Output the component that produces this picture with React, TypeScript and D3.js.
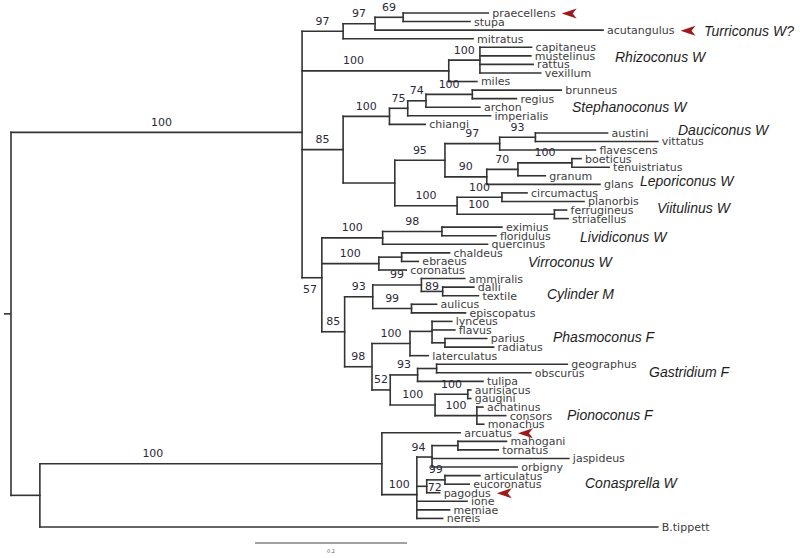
import React, { useMemo, useEffect } from 'react';
import * as d3 from 'd3';

type Row = [string, string | null, number, number | null];

// [node id, parent id, branch length (subst./site), posterior support]
const OUTER: Row[] = [
  ['root', null, 0, null],
  ['N1', 'root', 0.383, 100],
];
const TURRICONUS_RHIZOCONUS: Row[] = [
  ['N2', 'N1', 0.054, 97],
  ['N3', 'N2', 0.042, 97],
  ['N4', 'N3', 0.037, 69],
  ['praecellens', 'N4', 0.112, null],
  ['stupa', 'N4', 0.088, null],
  ['acutangulus', 'N3', 0.3, null],
  ['mitratus', 'N2', 0.171, null],
  ['Rhizo', 'N1', 0.193, 100],
  ['NRc', 'Rhizo', 0.041, 100],
  ['capitaneus', 'NRc', 0.068, null],
  ['mustelinus', 'NRc', 0.067, null],
  ['rattus', 'NRc', 0.07, null],
  ['vexillum', 'NRc', 0.08, null],
  ['miles', 'Rhizo', 0.037, null],
];
const STEPH_DAUC_LEPO_VIIT: Row[] = [
  ['N85', 'N1', 0.054, 85],
  ['Steph', 'N85', 0.061, 100],
  ['N75', 'Steph', 0.024, 75],
  ['N74', 'N75', 0.024, 74],
  ['N100s', 'N74', 0.061, 100],
  ['brunneus', 'N100s', 0.117, null],
  ['regius', 'N100s', 0.058, null],
  ['archon', 'N74', 0.071, null],
  ['imperialis', 'N75', 0.109, null],
  ['chiangi', 'Steph', 0.047, null],
  ['NDLV', 'N85', 0.068, null],
  ['N95', 'NDLV', 0.066, 95],
  ['N97d', 'N95', 0.072, 97],
  ['N93d', 'N97d', 0.047, 93],
  ['austini', 'N93d', 0.095, null],
  ['vittatus', 'N93d', 0.161, null],
  ['flavescens', 'N97d', 0.126, null],
  ['N90', 'N95', 0.055, 90],
  ['N70', 'N90', 0.041, 70],
  ['N100b', 'N70', 0.071, 100],
  ['boeticus', 'N100b', 0.012, null],
  ['tenuistriatus', 'N100b', 0.049, null],
  ['granum', 'N70', 0.036, null],
  ['glans', 'N90', 0.149, null],
  ['Viit', 'NDLV', 0.082, 100],
  ['N100v1', 'Viit', 0.059, 100],
  ['circumactus', 'N100v1', 0.033, null],
  ['planorbis', 'N100v1', 0.108, null],
  ['N100v2', 'Viit', 0.128, 100],
  ['ferrugineus', 'N100v2', 0.016, null],
  ['striatellus', 'N100v2', 0.018, null],
];
const LIV_VIR_CYL: Row[] = [
  ['N57', 'N1', 0.026, 57],
  ['Liv', 'N57', 0.08, 100],
  ['N98l', 'Liv', 0.078, 98],
  ['eximius', 'N98l', 0.079, null],
  ['floridulus', 'N98l', 0.071, null],
  ['quercinus', 'Liv', 0.138, null],
  ['Vir', 'N57', 0.075, 100],
  ['NVc', 'Vir', 0.03, null],
  ['chaldeus', 'NVc', 0.063, null],
  ['ebraeus', 'NVc', 0.022, null],
  ['coronatus', 'Vir', 0.036, null],
  ['N85b', 'N57', 0.03, 85],
  ['N93c', 'N85b', 0.037, 93],
  ['N99a', 'N93c', 0.064, 99],
  ['ammiralis', 'N99a', 0.057, null],
  ['N89', 'N99a', 0.028, 89],
  ['dalli', 'N89', 0.041, null],
  ['textile', 'N89', 0.047, null],
  ['N99b', 'N93c', 0.051, 99],
  ['aulicus', 'N99b', 0.033, null],
  ['episcopatus', 'N99b', 0.071, null],
];
const PHAS_GAST_PION: Row[] = [
  ['N98', 'N85b', 0.036, 98],
  ['Phas', 'N98', 0.05, 100],
  ['NPh', 'Phas', 0.029, null],
  ['lynceus', 'NPh', 0.026, null],
  ['flavus', 'NPh', 0.03, null],
  ['Npr', 'NPh', 0.017, null],
  ['parius', 'Npr', 0.055, null],
  ['radiatus', 'Npr', 0.064, null],
  ['laterculatus', 'Phas', 0.024, null],
  ['N52', 'N98', 0.024, 52],
  ['Gas', 'N52', 0.036, 93],
  ['Ngo', 'Gas', 0.025, null],
  ['geographus', 'Ngo', 0.172, null],
  ['obscurus', 'Ngo', 0.124, null],
  ['tulipa', 'Gas', 0.086, null],
  ['Pion', 'N52', 0.059, 100],
  ['Nau', 'Pion', 0.043, 100],
  ['aurisiacus', 'Nau', 0.004, null],
  ['gaugini', 'Nau', 0.004, null],
  ['Nac', 'Pion', 0.055, 100],
  ['achatinus', 'Nac', 0.008, null],
  ['consors', 'Nac', 0.038, null],
  ['monachus', 'Nac', 0.009, null],
];
const CONASPRELLA_OUTGROUP: Row[] = [
  ['NB', 'root', 0.038, null],
  ['NC', 'NB', 0.45, 100],
  ['arcuatus', 'NC', 0.103, null],
  ['N100c', 'NC', 0.046, 100],
  ['N94', 'N100c', 0.02, 94],
  ['Nmt', 'N94', 0.034, null],
  ['mahogani', 'Nmt', 0.064, null],
  ['tornatus', 'Nmt', 0.053, null],
  ['jaspideus', 'N94', 0.18, null],
  ['orbigny', 'N94', 0.112, null],
  ['N72', 'N100c', 0.013, 72],
  ['N99c', 'N72', 0.024, 99],
  ['articulatus', 'N99c', 0.046, null],
  ['eucoronatus', 'N99c', 0.032, null],
  ['pagodus', 'N72', 0.017, null],
  ['ione', 'N100c', 0.066, null],
  ['memiae', 'N100c', 0.043, null],
  ['nereis', 'N100c', 0.034, null],
  ['B.tippett', 'NB', 0.813, null],
];

const EDGES: Row[] = [
  ...OUTER,
  ...TURRICONUS_RHIZOCONUS,
  ...STEPH_DAUC_LEPO_VIIT,
  ...LIV_VIR_CYL,
  ...PHAS_GAST_PION,
  ...CONASPRELLA_OUTGROUP,
];

// Tips flagged with red arrowheads
const ARROW_TIPS = ['praecellens', 'acutangulus', 'arcuatus', 'pagodus'];

// Clade (subgenus) names
const CLADE_NAMES = [
  'Turriconus W?',
  'Rhizoconus W',
  'Stephanoconus W',
  'Dauciconus W',
  'Leporiconus W',
  'Viitulinus W',
  'Lividiconus W',
  'Virroconus W',
  'Cylinder M',
  'Phasmoconus F',
  'Gastridium F',
  'Pionoconus F',
  'Conasprella W',
];

const SCALE_BAR_VALUE = 0.2;
const SCALE_BAR_LABEL = '0.2';

// ---- layout (pixels) ----
const W = 800;
const H = 558;
const CLADE_POS: [number, number][] = [
  [704, 31], [615, 57], [572, 107], [678, 130], [640, 181], [657, 208],
  [580, 237], [528, 262], [547, 294], [553, 337], [649, 372], [567, 415], [585, 483],
];
// nudges for a few support labels [dx, dy]
const LABEL_NUDGE: Record<string, [number, number]> = {
  N1: [5, 0],
  NC: [-58, 0],
  Rhizo: [-22, 0],
  N100v2: [-27, 0],
  N72: [13, 11],
  N89: [0, 5],
  N57: [-2, 21.5],
  N94: [-6, 0],
};

const TIP_FONT = "11px 'DejaVu Sans'";

type TNode = d3.HierarchyNode<Row> & { dist?: number; yy?: number };

export default function App() {
  useEffect(() => {
    document.body.style.margin = '0';
  }, []);

  const layout = useMemo(() => {
    const root = d3
      .stratify<Row>()
      .id((d) => d[0])
      .parentId((d) => d[1])(EDGES) as TNode;

    root.eachBefore((n: TNode) => {
      n.dist = n.parent ? (n.parent as TNode).dist! + n.data[2] : 0;
    });
    const leaves = root.leaves() as TNode[];
    const yScale = d3.scaleLinear().domain([0, leaves.length - 1]).range([13, 527]);
    leaves.forEach((l, i) => (l.yy = yScale(i)));
    root.eachAfter((n: TNode) => {
      if (n.children) n.yy = d3.mean(n.children as TNode[], (c) => c.yy!)!;
    });
    const xScale = d3.scaleLinear().domain([0, 1]).range([11, 771]);
    return { root, leaves, xScale, nodes: root.descendants() as TNode[] };
  }, []);

  const measure = useMemo(() => {
    const c = document.createElement('canvas').getContext('2d')!;
    c.font = TIP_FONT;
    return (s: string) => c.measureText(s).width;
  }, []);

  const { root, leaves, xScale, nodes } = layout;
  const X = (n: TNode) => xScale(n.dist!);

  const lineColor = '#333';
  const sw = 1.6;

  const hLines = nodes
    .filter((n) => n.parent)
    .map((n) => (
      <line
        key={'h' + n.id}
        x1={X(n.parent as TNode)}
        x2={X(n)}
        y1={n.yy}
        y2={n.yy}
        stroke={lineColor}
        strokeWidth={sw}
        strokeLinecap="square"
      />
    ));
  const vLines = nodes
    .filter((n) => n.children)
    .map((n) => {
      const ys = (n.children as TNode[]).map((c) => c.yy!);
      return (
        <line
          key={'v' + n.id}
          x1={X(n)}
          x2={X(n)}
          y1={d3.min(ys)}
          y2={d3.max(ys)}
          stroke={lineColor}
          strokeWidth={sw}
          strokeLinecap="square"
        />
      );
    });

  const supports = nodes
    .filter((n) => n.parent && n.data[3] != null)
    .map((n) => {
      const nudge = LABEL_NUDGE[n.id!] || [0, 0];
      const cx = (X(n.parent as TNode) + X(n)) / 2 + nudge[0];
      const cy = n.yy! - 6.5 + nudge[1];
      return (
        <text
          key={'s' + n.id}
          x={cx}
          y={cy}
          textAnchor="middle"
          fontFamily="'DejaVu Sans'"
          fontSize={11}
          fill="#2c2838"
        >
          {n.data[3]}
        </text>
      );
    });

  const tipTexts = leaves.map((l) => (
    <text
      key={'t' + l.id}
      x={X(l) + 4}
      y={l.yy}
      dy="0.36em"
      fontFamily="'DejaVu Sans'"
      fontSize={11}
      fill="#3d3d3d"
    >
      {l.id}
    </text>
  ));

  const arrows = leaves
    .filter((l) => ARROW_TIPS.includes(l.id!))
    .map((l) => {
      const ax = X(l) + 4 + measure(l.id!) + 6;
      const ay = l.yy! + 0.5;
      const d = `M${ax},${ay} L${ax + 15},${ay - 5} L${ax + 11},${ay} L${ax + 15},${ay + 5} Z`;
      return <path key={'a' + l.id} d={d} fill="#9e1a1a" />;
    });

  const clades = CLADE_NAMES.map((name, i) => (
    <text
      key={'c' + name}
      x={CLADE_POS[i][0]}
      y={CLADE_POS[i][1]}
      dy="0.36em"
      fontFamily="'Liberation Sans', Arial, sans-serif"
      fontStyle="italic"
      fontSize={14}
      fill="#1e1e1e"
    >
      {name}
    </text>
  ));

  const barX0 = 255;
  const barLen = xScale(SCALE_BAR_VALUE) - xScale(0);

  return (
    <svg
      width={W}
      height={H}
      style={{ position: 'absolute', left: 0, top: 0, background: '#fff' }}
    >
      <rect x={0} y={0} width={W} height={H} fill="#fff" />
      <line
        x1={X(root) - 7}
        x2={X(root)}
        y1={root.yy}
        y2={root.yy}
        stroke={lineColor}
        strokeWidth={sw}
      />
      {vLines}
      {hLines}
      {supports}
      {tipTexts}
      {arrows}
      {clades}
      <line x1={barX0} x2={barX0 + barLen} y1={543} y2={543} stroke="#444" strokeWidth={1} />
      <text
        x={barX0 + barLen / 2}
        y={553}
        textAnchor="middle"
        fontFamily="'DejaVu Sans'"
        fontSize={5}
        fill="#666"
      >
        {SCALE_BAR_LABEL}
      </text>
    </svg>
  );
}
